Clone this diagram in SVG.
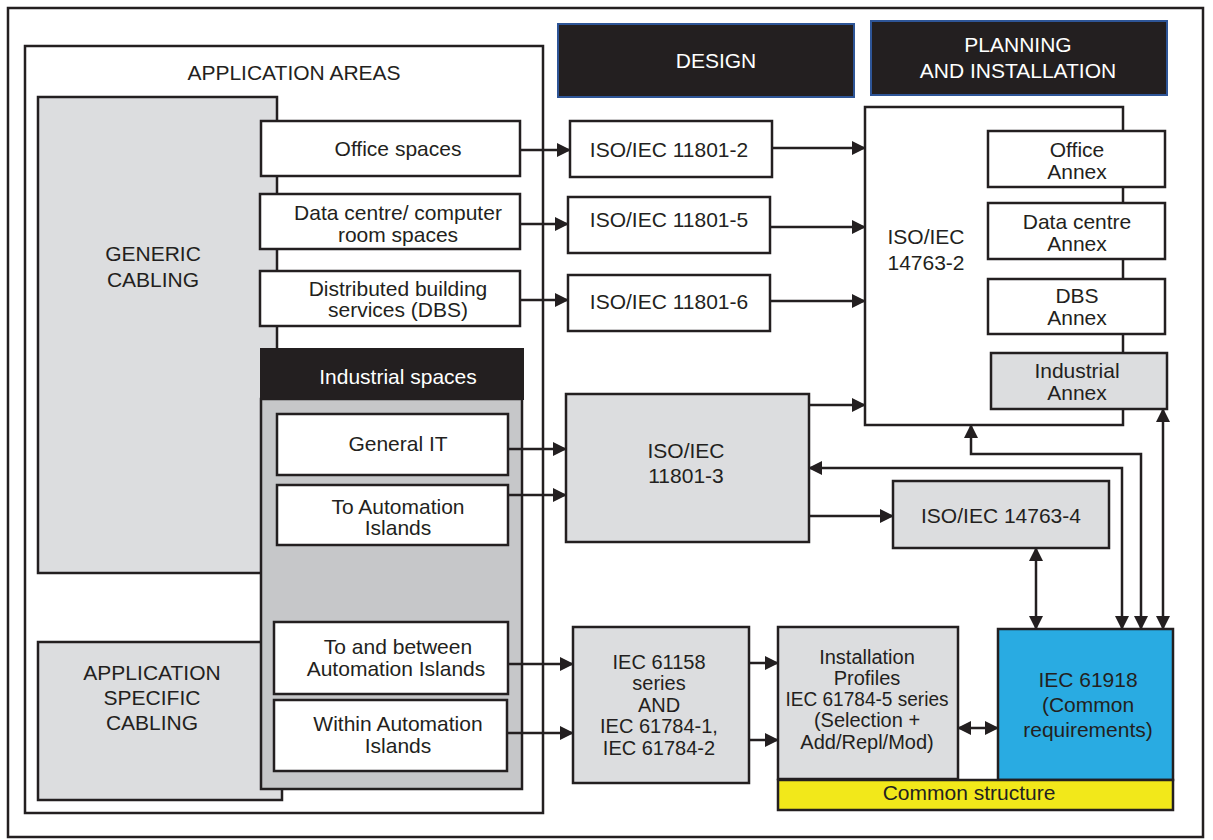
<svg xmlns="http://www.w3.org/2000/svg" width="1213" height="840" viewBox="0 0 1213 840">
<style>
.b{stroke:#231f20;stroke-width:2.5}
.w{fill:#ffffff}
.g{fill:#dcdddf}
.t{font-family:"Liberation Sans",Arial,sans-serif;font-size:21px;fill:#231f20;text-anchor:middle}
.s{font-size:20px}
.tw{font-family:"Liberation Sans",Arial,sans-serif;font-size:21px;fill:#ffffff;text-anchor:middle}
.c{fill:none;stroke:#231f20;stroke-width:2.5}
</style>
<defs>
<marker id="ah" markerUnits="userSpaceOnUse" markerWidth="14" markerHeight="14" refX="13" refY="7" orient="auto-start-reverse" viewBox="0 0 14 14">
<path d="M0,0 L14,7 L0,14 z" fill="#231f20"/>
</marker>
</defs>
<rect x="0" y="0" width="1213" height="840" fill="#ffffff"/>
<rect id="frame" x="8" y="8" width="1195" height="829" fill="none" stroke="#231f20" stroke-width="2.5"/>

<g id="application-areas">
<rect class="b w" x="25" y="46" width="518" height="767"/>
<text class="t" x="294" y="80">APPLICATION AREAS</text>
</g>
<g id="generic-cabling">
<rect class="b g" x="38" y="97" width="239" height="476"/>
<text class="t" x="153" y="261">GENERIC</text>
<text class="t" x="153" y="287">CABLING</text>
</g>
<g id="application-specific">
<rect class="b g" x="38" y="642" width="244" height="158"/>
<text class="t" x="152" y="680">APPLICATION</text>
<text class="t" x="152" y="705">SPECIFIC</text>
<text class="t" x="152" y="730">CABLING</text>
</g>
<g id="office-spaces">
<rect class="b w" x="261" y="121" width="259" height="55"/>
<text class="t" x="398" y="156">Office spaces</text>
</g>
<g id="data-centre">
<rect class="b w" x="260" y="194" width="260" height="55"/>
<text class="t" x="398" y="220">Data centre/ computer</text>
<text class="t" x="398" y="242">room spaces</text>
</g>
<g id="dbs">
<rect class="b w" x="260" y="271" width="260" height="55"/>
<text class="t" x="398" y="296">Distributed building</text>
<text class="t" x="398" y="317">services (DBS)</text>
</g>
<g id="industrial-spaces">
<rect class="b" x="261" y="399" width="261" height="390" fill="#c6c7c9"/>
<rect x="261" y="349" width="262" height="50" fill="#231f20" stroke="#231f20" stroke-width="2"/>
<text class="tw" x="398" y="384">Industrial spaces</text>
</g>
<g id="general-it">
<rect class="b w" x="277" y="414" width="231" height="61"/>
<text class="t" x="398" y="451">General IT</text>
</g>
<g id="to-automation">
<rect class="b w" x="277" y="485" width="231" height="60"/>
<text class="t" x="398" y="514">To Automation</text>
<text class="t" x="398" y="535">Islands</text>
</g>
<g id="to-and-between">
<rect class="b w" x="274" y="622" width="234" height="72"/>
<text class="t" x="398" y="654">To and between</text>
<text class="t" x="396" y="676">Automation Islands</text>
</g>
<g id="within">
<rect class="b w" x="274" y="700" width="233" height="71"/>
<text class="t" x="398" y="731">Within Automation</text>
<text class="t" x="398" y="753">Islands</text>
</g>

<g id="design">
<rect x="558" y="24" width="296" height="73" fill="#231f20" stroke="#2e5597" stroke-width="2"/>
<text class="tw" x="716" y="68">DESIGN</text>
</g>
<g id="planning">
<rect x="871" y="21" width="296" height="74" fill="#231f20" stroke="#2e5597" stroke-width="2"/>
<text class="tw" x="1018" y="52">PLANNING</text>
<text class="tw" x="1018" y="78">AND INSTALLATION</text>
</g>

<g id="iso-11801-2">
<rect class="b w" x="570" y="121" width="202" height="56"/>
<text class="t" x="669" y="157">ISO/IEC 11801-2</text>
</g>
<g id="iso-11801-5">
<rect class="b w" x="568" y="197" width="202" height="56"/>
<text class="t" x="669" y="227">ISO/IEC 11801-5</text>
</g>
<g id="iso-11801-6">
<rect class="b w" x="568" y="275" width="202" height="56"/>
<text class="t" x="669" y="309">ISO/IEC 11801-6</text>
</g>
<g id="iso-14763-2">
<rect class="b w" x="865" y="107" width="258" height="318"/>
<text class="t" x="926" y="244">ISO/IEC</text>
<text class="t" x="926" y="270">14763-2</text>
</g>
<g id="office-annex">
<rect class="b w" x="988" y="131" width="177" height="56"/>
<text class="t" x="1077" y="157">Office</text>
<text class="t" x="1077" y="179">Annex</text>
</g>
<g id="dc-annex">
<rect class="b w" x="988" y="203" width="177" height="56"/>
<text class="t" x="1077" y="229">Data centre</text>
<text class="t" x="1077" y="251">Annex</text>
</g>
<g id="dbs-annex">
<rect class="b w" x="988" y="279" width="177" height="55"/>
<text class="t" x="1077" y="303">DBS</text>
<text class="t" x="1077" y="325">Annex</text>
</g>
<g id="industrial-annex">
<rect class="b g" x="991" y="353" width="176" height="56"/>
<text class="t" x="1077" y="378">Industrial</text>
<text class="t" x="1077" y="400">Annex</text>
</g>
<g id="iso-11801-3">
<rect class="b g" x="566" y="394" width="243" height="148"/>
<text class="t" x="686" y="458">ISO/IEC</text>
<text class="t" x="686" y="483">11801-3</text>
</g>
<g id="iso-14763-4">
<rect class="b g" x="893" y="481" width="216" height="67"/>
<text class="t" x="1001" y="523">ISO/IEC 14763-4</text>
</g>
<g id="iec-61158">
<rect class="b g" x="573" y="627" width="176" height="156"/>
<text class="t s" x="659" y="669">IEC 61158</text>
<text class="t s" x="659" y="690">series</text>
<text class="t s" x="659" y="712">AND</text>
<text class="t s" x="659" y="733">IEC 61784-1,</text>
<text class="t s" x="659" y="755">IEC 61784-2</text>
</g>
<g id="installation-profiles">
<rect class="b g" x="778" y="627" width="180" height="152"/>
<text class="t s" x="867" y="664">Installation</text>
<text class="t s" x="867" y="685">Profiles</text>
<text class="t s" x="867" y="706" textLength="163" lengthAdjust="spacingAndGlyphs">IEC 61784-5 series</text>
<text class="t s" x="867" y="727">(Selection +</text>
<text class="t s" x="867" y="749">Add/Repl/Mod)</text>
</g>
<g id="iec-61918">
<rect class="b" x="998" y="629" width="175" height="151" fill="#29abe2"/>
<text class="t" x="1088" y="687">IEC 61918</text>
<text class="t" x="1088" y="712">(Common</text>
<text class="t" x="1088" y="737">requirements)</text>
</g>
<g id="common-structure">
<rect class="b" x="778" y="780" width="395" height="30" fill="#f2e81a"/>
<text class="t" x="969" y="800">Common structure</text>
</g>

<g id="connectors">
<path class="c" d="M520,150 H570" marker-end="url(#ah)"/>
<path class="c" d="M520,224 H568" marker-end="url(#ah)"/>
<path class="c" d="M520,300 H568" marker-end="url(#ah)"/>
<path class="c" d="M772,148 H865" marker-end="url(#ah)"/>
<path class="c" d="M770,227 H865" marker-end="url(#ah)"/>
<path class="c" d="M770,301 H865" marker-end="url(#ah)"/>
<path class="c" d="M809,405 H865" marker-end="url(#ah)"/>
<path class="c" d="M508,449 H566" marker-end="url(#ah)"/>
<path class="c" d="M508,495 H566" marker-end="url(#ah)"/>
<path class="c" d="M809,516 H893" marker-end="url(#ah)"/>
<path class="c" d="M809,468 H1122 V629" marker-start="url(#ah)" marker-end="url(#ah)"/>
<path class="c" d="M971,425 V454 H1141 V629" marker-start="url(#ah)" marker-end="url(#ah)"/>
<path class="c" d="M1163,409 V629" marker-start="url(#ah)" marker-end="url(#ah)"/>
<path class="c" d="M1036,548 V629" marker-start="url(#ah)" marker-end="url(#ah)"/>
<path class="c" d="M508,664 H573" marker-end="url(#ah)"/>
<path class="c" d="M508,733 H573" marker-end="url(#ah)"/>
<path class="c" d="M749,663 H778" marker-end="url(#ah)"/>
<path class="c" d="M749,740 H778" marker-end="url(#ah)"/>
<path class="c" d="M958,728 H998" marker-start="url(#ah)" marker-end="url(#ah)"/>
</g>
</svg>
